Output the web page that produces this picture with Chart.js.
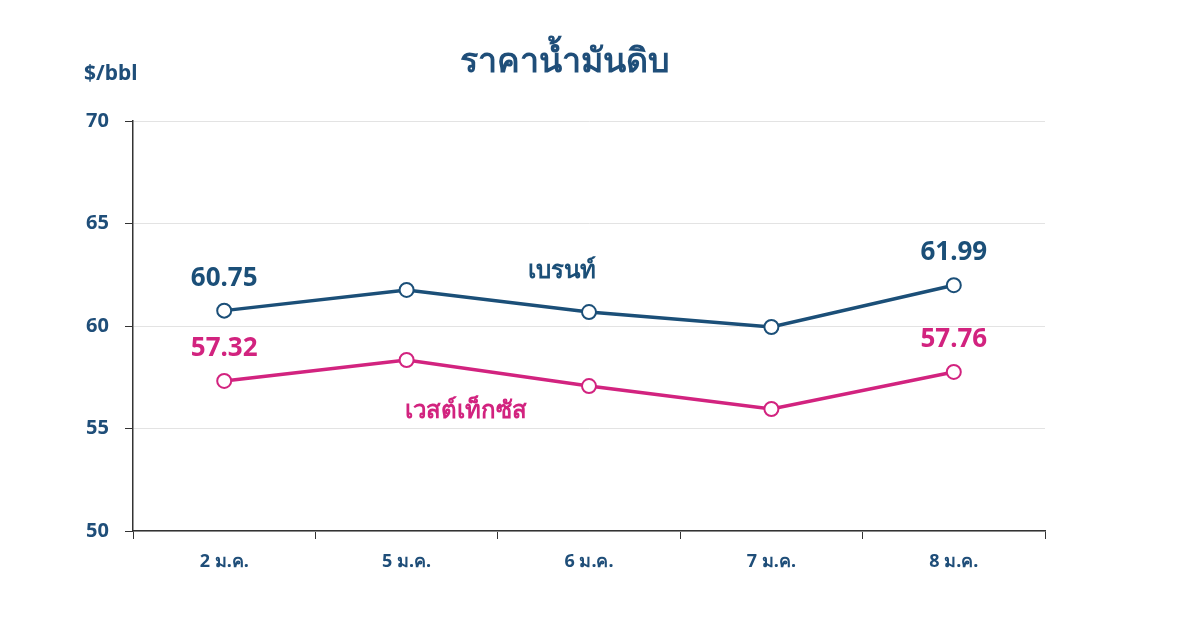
<!DOCTYPE html>
<html><head><meta charset="utf-8">
<script src="https://cdn.jsdelivr.net/npm/chart.js@4"></script>
<style>body{margin:0;background:#fff}#w{width:1200px;height:628px}</style>
</head><body><div id="w"><canvas id="c"></canvas></div>
<script>
const categories=['2 ม.ค.','5 ม.ค.','6 ม.ค.','7 ม.ค.','8 ม.ค.'];
const brent=[60.75,61.76,60.68,59.95,61.99];
const wti=[57.32,58.34,57.07,55.95,57.76];
const yTicks=[50,55,60,65,70];
const BLUE='#1b4f78',PINK='#d2237f',TXT='#1f4e79';
const F='"Noto Sans", sans-serif';
const labels={id:'lbl',afterDatasetsDraw(ch){
 const c=ch.ctx,x=ch.scales.x,y=ch.scales.y;c.save();
 c.textAlign='center';c.textBaseline='alphabetic';
 c.font='bold 34px '+F;c.fillStyle=TXT;c.fillText('ราคาน้ำมันดิบ',565,72);
 c.font='bold 21px '+F;c.textAlign='left';c.fillText('$/bbl',84,80);
 c.textAlign='center';c.font='bold 26px '+F;
 c.fillStyle=BLUE;
 [[0,brent],[4,brent]].forEach(([i,a])=>c.fillText(a[i].toFixed(2),x.getPixelForValue(i),y.getPixelForValue(a[i])-25));
 c.fillStyle=PINK;
 [[0,wti],[4,wti]].forEach(([i,a])=>c.fillText(a[i].toFixed(2),x.getPixelForValue(i),y.getPixelForValue(a[i])-25));
 c.font='bold 24px '+F;
 c.fillStyle=BLUE;c.fillText('เบรนท์',562,278);
 c.fillStyle=PINK;c.fillText('เวสต์เท็กซัส',466,418);
 c.restore();}};
new Chart(document.getElementById('c'),{type:'line',
data:{labels:categories,datasets:[
 {data:brent,borderColor:BLUE,borderWidth:3.5,pointRadius:7,pointBackgroundColor:'#fff',pointBorderColor:BLUE,pointBorderWidth:2,tension:0},
 {data:wti,borderColor:PINK,borderWidth:3.5,pointRadius:7,pointBackgroundColor:'#fff',pointBorderColor:PINK,pointBorderWidth:2,tension:0}]},
options:{responsive:true,maintainAspectRatio:false,animation:false,
 layout:{padding:{left:0,right:155,top:121,bottom:37}},
 plugins:{legend:{display:false},tooltip:{enabled:false}},
 scales:{
  x:{offset:true,afterFit(s){s.height=60},grid:{offset:true,drawOnChartArea:false,drawTicks:true,tickLength:8,color:'#333'},border:{color:'#333',width:1.5},
     ticks:{color:TXT,font:{family:F,size:18,weight:'bold'},padding:12}},
  y:{min:50,max:70,afterFit(s){s.width=133},afterBuildTicks(s){s.ticks=yTicks.map(v=>({value:v}))},
     grid:{color:'#e3e3e3',drawTicks:true,tickLength:8,tickColor:'#333'},border:{color:'#333',width:1.5},
     ticks:{color:TXT,font:{family:F,size:20,weight:'bold'},padding:16}}}},
plugins:[labels]});
</script></body></html>
